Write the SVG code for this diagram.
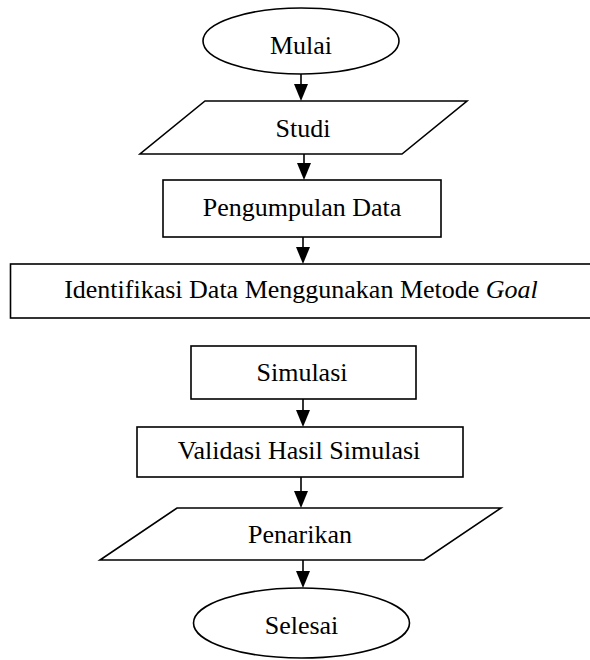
<svg xmlns="http://www.w3.org/2000/svg" width="590" height="660" viewBox="0 0 590 660">
<style>
.s{fill:#fff;stroke:#000;stroke-width:1.6}
.t{font-family:"Liberation Serif","Times New Roman",serif;font-size:26px;fill:#000;text-anchor:middle}
.c{stroke:#000;stroke-width:1.6;fill:none}
.h{fill:#000}
</style>
<rect width="590" height="660" fill="#fff"/>
<g id="connectors">
<line class="c" x1="301" y1="74" x2="301" y2="90"/>
<path class="h" d="M294,84 L308,84 L301,101 Z"/>
<line class="c" x1="304" y1="154" x2="304" y2="170"/>
<path class="h" d="M297,163 L311,163 L304,180 Z"/>
<line class="c" x1="303" y1="237" x2="303" y2="253"/>
<path class="h" d="M296,247 L310,247 L303,264 Z"/>
<line class="c" x1="303" y1="399" x2="303" y2="416"/>
<path class="h" d="M296,410 L310,410 L303,427 Z"/>
<line class="c" x1="301" y1="477" x2="301" y2="497"/>
<path class="h" d="M294,491 L308,491 L301,508 Z"/>
<line class="c" x1="303" y1="560" x2="303" y2="577"/>
<path class="h" d="M296,571 L310,571 L303,588 Z"/>
</g>
<g id="mulai">
<ellipse class="s" cx="301" cy="41" rx="98" ry="33"/>
<text class="t" x="301" y="54">Mulai</text>
</g>
<g id="studi">
<polygon class="s" points="205,101 467,101 402,154 140,154"/>
<text class="t" x="303" y="137">Studi</text>
</g>
<g id="pengumpulan">
<rect class="s" x="163" y="180" width="278" height="57"/>
<text class="t" x="302" y="216">Pengumpulan Data</text>
</g>
<g id="identifikasi">
<rect class="s" x="10.5" y="264" width="600" height="54"/>
<text class="t" x="301" y="298">Identifikasi Data Menggunakan Metode <tspan font-style="italic">Goal</tspan></text>
</g>
<g id="simulasi">
<rect class="s" x="191" y="346" width="225" height="53"/>
<text class="t" x="302" y="381">Simulasi</text>
</g>
<g id="validasi">
<rect class="s" x="137" y="427" width="326" height="50"/>
<text class="t" x="299" y="459">Validasi Hasil Simulasi</text>
</g>
<g id="penarikan">
<polygon class="s" points="177,508 501,508 424,560 100,560"/>
<text class="t" x="300" y="543">Penarikan</text>
</g>
<g id="selesai">
<ellipse class="s" cx="301.5" cy="623" rx="108" ry="35"/>
<text class="t" x="301.5" y="634">Selesai</text>
</g>
</svg>
